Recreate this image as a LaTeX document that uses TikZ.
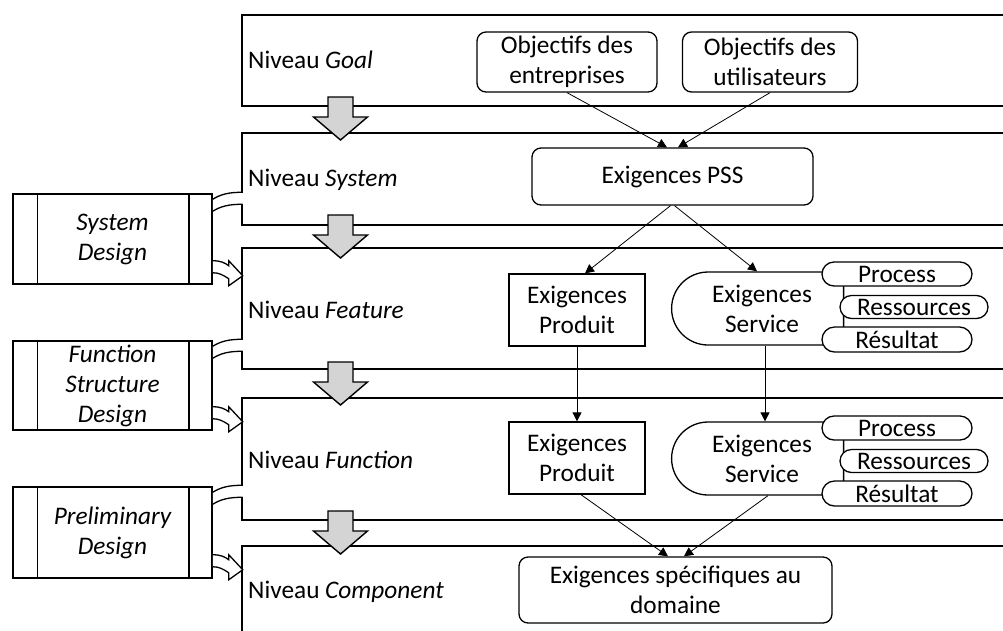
\documentclass[tikz,border=0pt]{standalone}
\usepackage{fontspec}
\setmainfont{Carlito}
\usetikzlibrary{arrows.meta,shapes.misc}
\tikzset{
  lvl/.style={draw, line width=1.6pt, fill=white},
  rbox/.style={draw, line width=1.3pt, rounded corners=9pt, align=center, inner sep=0pt, fill=white},
  sbox/.style={draw, line width=1.3pt, align=center, inner sep=0pt, fill=white},
  pill/.style={draw, line width=1.3pt, rounded rectangle, inner sep=0pt, fill=white},
  serv/.style={draw, line width=1.3pt, rounded rectangle, rounded rectangle right arc=none, align=center, inner sep=0pt, fill=white},
  procbox/.style={draw, line width=1.5pt, align=center, inner sep=0pt, fill=white, minimum width=199pt, font=\fontsize{25.3}{30}\selectfont\itshape},
  conn/.style={line width=0.8pt, -{Triangle[width=9pt,length=9pt]}},
  lbl/.style={anchor=west, inner sep=0pt},
  bigdown/.pic={\draw[fill=black!17, line width=1.4pt, line join=miter] (-12.5,0) -- (12.5,0) -- (12.5,20) -- (27,20) -- (0,43) -- (-27,20) -- (-12.5,20) -- cycle;},
  bandin/.pic={
    \fill[white] (0,6) .. controls (8,1) and (16,-1) .. (30,-1) -- (30,11) .. controls (16,11) and (8,13) .. (0,18) -- cycle;
    \draw[line width=1.3pt] (0,6) .. controls (8,1) and (16,-1) .. (30,-1);
    \draw[line width=1.3pt] (0,18) .. controls (8,13) and (16,11) .. (30,11);},
  bandout/.pic={
    \draw[line width=1.3pt, fill=white, line join=miter] (0,-24) .. controls (8,-24) and (12,-22) .. (16,-19) -- (16,-24) -- (30,-9) -- (16,1) -- (16,-6) .. controls (10,-10) and (6,-12) .. (0,-12);},
}
\begin{document}
\begin{tikzpicture}[x=1pt,y=-1pt, font=\fontsize{25.3}{30}\selectfont]
\useasboundingbox (0,0) rectangle (1003,630);
\clip (0,0) rectangle (1003,630);
% level boxes
\draw[lvl] (242,15) rectangle (1015,106);
\draw[lvl] (242,133) rectangle (1015,225);
\draw[lvl] (242,248) rectangle (1015,369);
\draw[lvl] (242,398) rectangle (1015,520);
\draw[lvl] (242,546) rectangle (1015,640);
% level labels
\node[lbl] (lg) at (248,60) {Niveau \textit{Goal}};
\node[lbl] (ls) at (248,180) {Niveau \textit{System}};
\node[lbl] (lf) at (248,310) {Niveau \textit{Feature}};
\node[lbl] (lfu) at (248,460) {Niveau \textit{Function}};
\node[lbl] (lc) at (248,592) {Niveau \textit{Component}};
% big arrows
\pic at (340.5,97) {bigdown};
\pic at (340.5,215) {bigdown};
\pic at (340.5,362) {bigdown};
\pic at (340.5,511) {bigdown};
% process boxes
\node[procbox, minimum height=90pt] (sd) at (112.5,239) {System\\Design};
\node[procbox, minimum height=89pt] (fsd) at (112.5,385.5) {Function\\Structure\\Design};
\node[procbox, minimum height=91pt] (pd) at (112.5,532.5) {Preliminary\\Design};
\foreach \b in {sd,fsd,pd}{
  \draw[line width=1.5pt] ([xshift=25pt]\b.north west) -- ([xshift=25pt]\b.south west);
  \draw[line width=1.5pt] ([xshift=-24pt]\b.north east) -- ([xshift=-24pt]\b.south east);
}
\pic at (sd.north east) {bandin};
\pic at (fsd.north east) {bandin};
\pic at (pd.north east) {bandin};
\pic at (sd.south east) {bandout};
\pic at (fsd.south east) {bandout};
\pic at (pd.south east) {bandout};
% goal nodes
\node[rbox, minimum width=180pt, minimum height=60pt] (oe) at (567,62) {Objectifs des\\entreprises};
\node[rbox, minimum width=175pt, minimum height=60pt] (ou) at (770,62) {Objectifs des\\utilisateurs};
\node[rbox, minimum width=281pt, minimum height=57pt] (pss) at (672.5,176.5) {Exigences PSS};
% feature
\node[sbox, minimum width=136pt, minimum height=72pt] (p1) at (577,310) {Exigences\\Produit};
\node[serv, minimum width=172pt, minimum height=73pt] (s1) at (762,308.5) {Exigences\\Service};
\node[pill, minimum width=150pt, minimum height=24pt] (pr1) at (897,274) {Process};
\node[pill, minimum width=148pt, minimum height=23pt] (re1) at (914,307) {Ressources};
\node[pill, minimum width=150pt, minimum height=25pt] (rs1) at (897,339.5) {Résultat};
% function
\node[sbox, minimum width=136pt, minimum height=72pt] (p2) at (577,458) {Exigences\\Produit};
\node[serv, minimum width=172pt, minimum height=73pt] (s2) at (762,458.5) {Exigences\\Service};
\node[pill, minimum width=150pt, minimum height=24pt] (pr2) at (897,428) {Process};
\node[pill, minimum width=148pt, minimum height=23pt] (re2) at (914,461) {Ressources};
\node[pill, minimum width=150pt, minimum height=25pt] (rs2) at (897,493.5) {Résultat};
% component
\node[rbox, minimum width=313pt, minimum height=66pt] (esd) at (675.5,590) {Exigences spécifiques au\\domaine};
% connectors
\draw[conn] (oe.south) -- ([xshift=-5.5pt]pss.north);
\draw[conn] (ou.south) -- ([xshift=5.5pt]pss.north);
\draw[conn] ([xshift=-2pt]pss.south) -- ([xshift=8pt]p1.north);
\draw[conn] ([xshift=2pt]pss.south) -- ([xshift=-5pt]s1.north);
\draw[conn] (p1.south) -- (p2.north);
\draw[conn] ([xshift=3pt]s1.south) -- ([xshift=3pt]s2.north);
\draw[conn] ([xshift=4pt]p2.south) -- ([xshift=-7.5pt]esd.north);
\draw[conn] ([xshift=6pt]s2.south) -- ([xshift=8.5pt]esd.north);
\end{tikzpicture}
\end{document}
